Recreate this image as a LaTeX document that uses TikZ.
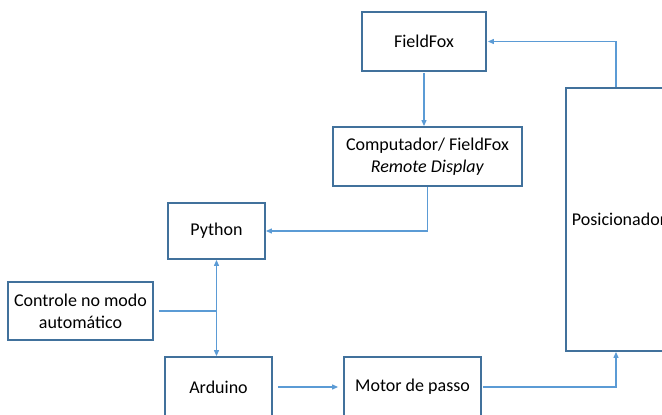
\documentclass[tikz,border=0pt]{standalone}
\usepackage{fontspec}
\setmainfont{Carlito}
\usepackage{xcolor}
\usepackage{tikz}
\usetikzlibrary{arrows.meta, calc}

\definecolor{boxline}{RGB}{65,113,156}
\definecolor{arrowline}{RGB}{91,155,213}

\begin{document}
\begin{tikzpicture}[x=1pt, y=-1pt,
    block/.style={draw=boxline, line width=1.8pt, fill=white, align=center,
                  inner sep=0pt, font=\fontsize{18}{22}\selectfont},
    conn/.style={draw=arrowline, line width=1.1pt},
    tip/.style={-{Triangle[length=6pt, width=5pt]}}]
    % Page frame (reference is cropped at right and bottom)
    \useasboundingbox (0,0) rectangle (662,415);
    \clip (0,0) rectangle (662,415);

    % Blocks
    \node[block, minimum width=124pt, minimum height=59pt] (fieldfox) at (424,41.5) {FieldFox};
    \node[block, minimum width=189pt, minimum height=59pt] (computador) at (427.5,156.5)
        {Computador/ FieldFox\\ \textit{Remote Display}};
    \node[block, minimum width=97pt, minimum height=56pt] (python) at (216.5,231) {Python};
    \node[block, minimum width=145pt, minimum height=58pt] (controle) at (80.5,311)
        {Controle no modo\\ autom\'atico};
    \node[block, minimum width=107pt, minimum height=60pt] (arduino) at (218.5,387) {Arduino};
    \node[block, minimum width=137pt, minimum height=60pt] (motor) at (412.5,387) {Motor de passo};
    \node[block, minimum width=106pt, minimum height=263pt] (posicionador) at (619,219.5) {Posicionador};

    % Connectors
    \draw[conn, tip, shorten <=1pt] (fieldfox.south) -- (fieldfox.south |- computador.north);
    \draw[conn, tip] (computador.south) |- (python.east);
    \draw[conn, shorten <=5pt] (controle.east) -- (controle.east -| python.south);
    \draw[conn, {Triangle[length=6pt, width=5pt]}-{Triangle[length=6pt, width=5pt]}]
        (python.south) -- (python.south |- arduino.north);
    \draw[conn, tip, shorten <=5pt, shorten >=5pt] (arduino.east) -- (motor.west);
    \draw[conn, tip, shorten <=1pt] (motor.east) -| ([xshift=-3pt]posicionador.south);
    \draw[conn, tip, shorten >=1pt] ([xshift=-3pt]posicionador.north) |- (fieldfox.east);
\end{tikzpicture}
\end{document}
